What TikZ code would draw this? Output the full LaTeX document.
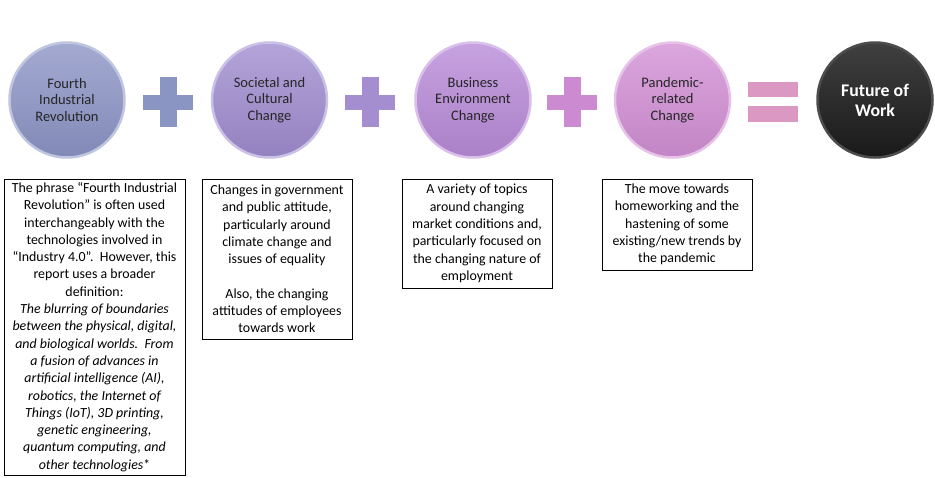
\documentclass[tikz,border=0pt]{standalone}
\usepackage{fontspec}
\setmainfont{Carlito}
\definecolor{cA}{HTML}{8D95C6}
\definecolor{cB}{HTML}{A08DD0}
\definecolor{cC}{HTML}{B98BD9}
\definecolor{cD}{HTML}{D390D6}
\definecolor{cE}{HTML}{262626}
\definecolor{pA}{HTML}{8B95C4}
\definecolor{pB}{HTML}{A48ECF}
\definecolor{pC}{HTML}{CC8AD0}
\definecolor{pE}{HTML}{DB98C2}
\tikzset{
  orb/.style={circle, minimum size=115pt, inner sep=0pt, align=center,
    font=\fontsize{14.5}{16.5}\selectfont, text=black!85,
    draw=#1!55!white, line width=2.5pt, top color=#1!80!white, bottom color=#1!92!black},
  infobox/.style={draw=black, line width=0.8pt, align=center, inner sep=0pt,
    font=\fontsize{13.9}{17.3}\selectfont, text=black}
}
\newcommand{\plussign}[2]{%
  \fill[#2] ($(#1)+(-25,-7.5)$) rectangle ($(#1)+(25,7.5)$);
  \fill[#2] ($(#1)+(-8.5,-25)$) rectangle ($(#1)+(8.5,25)$);}
\usetikzlibrary{calc}
\begin{document}
\begin{tikzpicture}[x=1pt,y=-1pt]
\useasboundingbox (0,0) rectangle (935,477);
\fill[white] (0,0) rectangle (935,477);

\node[orb=cA] (c1) at (67,100) {Fourth\\Industrial\\Revolution};
\node[orb=cB] (c2) at (269.5,100) {Societal and\\Cultural\\Change};
\node[orb=cC] (c3) at (473,100) {Business\\Environment\\Change};
\node[orb=cD] (c4) at (672.5,100) {Pandemic-\\related\\Change};
\node[orb=cE, text=white, font=\fontsize{17.8}{20}\selectfont\bfseries,
      draw=black!70, top color=black!75, bottom color=black!90] (c5) at (875,100) {Future of\\Work};

\coordinate (p1) at (168,102);
\coordinate (p2) at (370,102);
\coordinate (p3) at (572,102);
\plussign{p1}{pA}
\plussign{p2}{pB}
\plussign{p3}{pC}
\coordinate (eq) at (773,102);
\fill[pE] ($(eq)+(-25,-20)$) rectangle ($(eq)+(25,-5)$);
\fill[pE] ($(eq)+(-25,4)$) rectangle ($(eq)+(25,20)$);

\node[infobox, minimum width=181pt, minimum height=296pt] (b1) at (94.5,327)
 {The phrase “Fourth Industrial\\Revolution” is often used\\interchangeably with the\\technologies involved in\\“Industry 4.0”.\ \ However, this\\report uses a broader\\definition:\\
 \itshape The blurring of boundaries\\\itshape between the physical,\ digital,\\\itshape and biological worlds.\ \ From\\\itshape a fusion of advances in\\\itshape artificial intelligence (AI),\\\itshape robotics, the Internet of\\\itshape Things (IoT), 3D printing,\\\itshape genetic engineering,\\\itshape quantum computing, and\\\itshape other technologies\upshape*};
\node[infobox, minimum width=150pt, minimum height=160pt] (b2) at (277,259)
 {Changes in government\\and public attitude,\\particularly around\\climate change and\\issues of equality\\[17.3pt]Also, the changing\\attitudes of employees\\towards work};
\node[infobox, minimum width=150pt, minimum height=109pt] (b3) at (477,233.5)
 {A variety of topics\\around changing\\market conditions and,\\particularly focused on\\the changing nature of\\employment};
\node[infobox, minimum width=150pt, minimum height=91pt] (b4) at (677,224.5)
 {The move towards\\homeworking and the\\hastening of some\\existing/new trends by\\the pandemic};
\end{tikzpicture}
\end{document}
